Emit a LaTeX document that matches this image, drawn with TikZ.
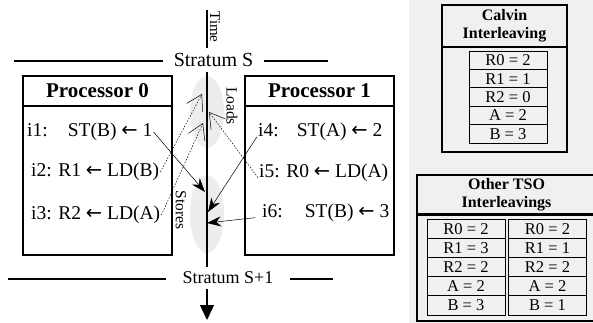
\documentclass[tikz,border=0pt]{standalone}
\usepackage{fontspec}
\setmainfont{Liberation Serif}
\newfontfamily\symfont{DejaVu Sans}
\usetikzlibrary{arrows.meta,shapes.geometric,positioning}
\definecolor{panelgrey}{HTML}{F0F0F0}
\definecolor{zonegrey}{HTML}{EDEDED}
\newcommand{\getsarr}{{\symfont\char"2190}}

\begin{document}
\begin{tikzpicture}[x=1pt,y=-1pt,
  proc/.style={draw,line width=2.2pt,minimum width=149,minimum height=179},
  phead/.style={draw,line width=2.2pt,minimum width=149,minimum height=30,anchor=north,
                font=\fontsize{21}{24}\selectfont\bfseries},
  instr/.style={anchor=west,inner sep=1pt,font=\fontsize{19.5}{24}\selectfont},
  zone/.style={ellipse,fill=zonegrey,minimum width=34,minimum height=72,inner sep=0pt},
  vlbl/.style={rotate=-90,font=\fontsize{15.5}{18}\selectfont,inner sep=0pt},
  strat/.style={line width=1.6pt},
  slbl/.style={fill=white,inner xsep=11pt,inner ysep=5pt},
  tbox/.style={draw,line width=2.4pt},
  thead/.style={draw,line width=2.4pt,anchor=north,align=center,
                font=\fontsize{16}{18}\selectfont\bfseries},
  cell/.style={draw,line width=0.8pt,minimum width=78,minimum height=18.4,inner sep=0pt,
               font=\fontsize{16.5}{18}\selectfont},
  st/.style={-{Stealth[length=14pt,width=10pt]},line width=0.5pt},
  ld/.style={-{Straight Barb[length=15pt,width=18pt]},line width=0.5pt,dash pattern=on 1.5pt off 1.5pt}]

\useasboundingbox (0,0) rectangle (593,323);
\fill[panelgrey] (409,0) rectangle (593,323);

% load / store zones on the time axis
\node[zone] (ldzone) at (207,112) {};
\node[zone,minimum height=78] (stzone) at (207,214) {};

\coordinate (t0) at (207,10); \coordinate (t1) at (207,320);
\draw[line width=1.4pt,-{Triangle[length=15pt,width=14pt]}] (t0) -- (t1);
\node[vlbl,font=\fontsize{15}{18}\selectfont] (timelbl) at (215,27) {Time};

\coordinate (sa) at (14,61); \coordinate (sb) at (328,61);
\coordinate (sc) at (8,279); \coordinate (sd) at (333,279);
\draw[strat] (sa) -- (sb); \draw[strat] (sc) -- (sd);
\node[slbl,font=\fontsize{20}{24}\selectfont] (strS) at (213.5,60) {Stratum S};
\node[slbl,inner xsep=17pt,font=\fontsize{18}{22}\selectfont] (strS1) at (228,278) {Stratum S+1};

% processors
\node[proc] (p0) at (97.5,165.5) {};
\node[phead] (h0) at (p0.north) {Processor 0};
\node[proc] (p1) at (319.5,165.5) {};
\node[phead] (h1) at (p1.north) {Processor 1};

\node[instr] (i1) at (26,132) {i1:\hspace{20pt}ST(B) \getsarr{} 1};
\node[instr] (i2) at (30,172) {i2: R1 \getsarr{} LD(B)};
\node[instr] (i3) at (30,215) {i3: R2 \getsarr{} LD(A)};
\node[instr] (i4) at (257,132) {i4:\hspace{18pt}ST(A) \getsarr{} 2};
\node[instr] (i5) at (258,173) {i5: R0 \getsarr{} LD(A)};
\node[instr] (i6) at (261,213) {i6:\hspace{22pt}ST(B) \getsarr{} 3};

\node[vlbl] (ldlbl) at (232,106) {Loads};
\node[vlbl] (stlbl) at (181,210) {Stores};

\coordinate (ld1) at (202,94); \coordinate (ld2) at (203,123); \coordinate (ld3) at (209,112);
\coordinate (st1) at (205,192); \coordinate (st2) at (208,212); \coordinate (st3) at (207,223);
\draw[st] (i1.east) -- (st1);
\draw[st] (i4.base west) -- (st2);
\draw[st] ([xshift=-6pt]i6.base west) -- (st3);
\draw[ld] (i2.east) -- (ld1);
\draw[ld] (i3.east) -- (ld2);
\draw[ld] (i5.base west) -- (ld3);

% interleaving tables
\node[tbox,minimum width=125,minimum height=147] (calvin) at (504.5,78.5) {};
\node[thead,minimum width=125,minimum height=42] (calhead) at (calvin.north) {Calvin\\Interleaving};
\foreach \v [count=\k from 0] in {R0 = 2,R1 = 1,R2 = 0,A = 2,B = 3}
  \node[cell] (cal\k) at (508,60.2+18.4*\k) {\v};

\node[tbox,minimum width=179,minimum height=146] (other) at (506.5,248) {};
\node[thead,minimum width=179,minimum height=38] (othhead) at (other.north) {Other TSO\\Interleavings};
\foreach \a/\b [count=\k from 0] in {R0 = 2/R0 = 2,R1 = 3/R1 = 1,R2 = 2/R2 = 2,A = 2/A = 2,B = 3/B = 1}{
  \node[cell,minimum height=19.2] (oa\k) at (466,228.6+19.2*\k) {\a};
  \node[cell,minimum height=19.2] (ob\k) at (547.5,228.6+19.2*\k) {\b};}
\end{tikzpicture}
\end{document}
